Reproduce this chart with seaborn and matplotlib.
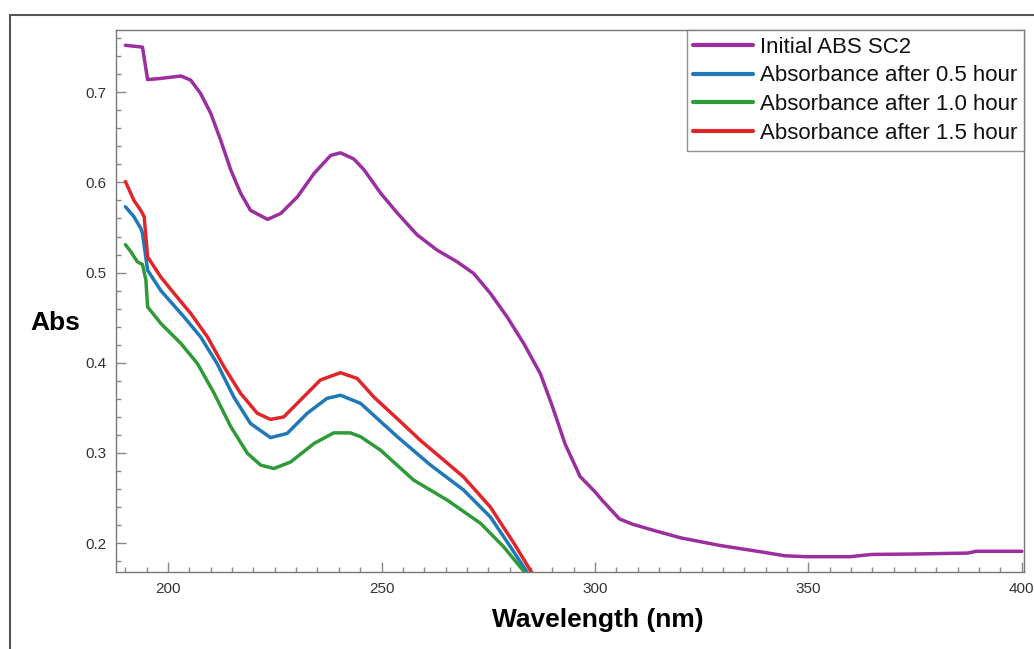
import pandas as pd
import matplotlib
matplotlib.use('Agg')
import matplotlib.pyplot as plt
from matplotlib.patches import Rectangle
from matplotlib.ticker import MultipleLocator
import seaborn as sns

# Widma absorpcji
labels = ['Initial ABS SC2', 'Absorbance after 0.5 hour',
          'Absorbance after 1.0 hour', 'Absorbance after 1.5 hour']
colors = ['#9c2f9f', '#1f78b8', '#2f9b38', '#e0262b']

wl_initial = [190, 194, 195.2, 198.3, 203, 205.3, 207.6, 210, 212.3, 214.7, 217, 219.3,
              223.3, 226.4, 230.3, 234.2, 238.1, 240.4, 243.5, 245.9, 249.8, 253.7,
              258.3, 263, 267.7, 271.6, 275.5, 279.4, 283.3, 287.2, 290, 293, 296.5,
              300, 301.7, 305.7, 308.8, 313.9, 320, 329.2, 339.4, 344.5, 349.6, 355,
              359.7, 364.9, 375, 387.3, 389.3, 400]
abs_initial = [0.752, 0.750, 0.714, 0.7153, 0.718, 0.7134, 0.6987, 0.6765, 0.647, 0.6136,
               0.588, 0.569, 0.559, 0.5656, 0.584, 0.610, 0.630, 0.6328, 0.626, 0.614,
               0.588, 0.566, 0.542, 0.525, 0.512, 0.499, 0.477, 0.451, 0.4215, 0.388,
               0.352, 0.310, 0.274, 0.257, 0.2475, 0.227, 0.221, 0.214, 0.206, 0.1975,
               0.190, 0.186, 0.185, 0.185, 0.185, 0.1875, 0.188, 0.189, 0.191, 0.191]

wl_05 = [190, 192, 193.6, 194, 195.2, 198.3, 203.7, 207.6, 211.5, 215.4, 219.3, 224,
         227.9, 232.6, 237.2, 240.4, 245.1, 253.7, 261.5, 269.2, 275.5, 280.2, 284.5]
abs_05 = [0.573, 0.562, 0.549, 0.5435, 0.5027, 0.480, 0.451, 0.4288, 0.399, 0.362,
          0.3327, 0.317, 0.3217, 0.344, 0.3605, 0.364, 0.355, 0.318, 0.2865, 0.259,
          0.229, 0.196, 0.165]

wl_10 = [190, 191.3, 192.8, 194, 194.8, 195.2, 198.3, 203, 206.9, 210.8, 214.7, 218.6,
         221.7, 224.8, 228.7, 234.2, 238.8, 242.7, 245.1, 249.8, 257.5, 265.4, 273.2,
         278.6, 284]
abs_10 = [0.531, 0.523, 0.512, 0.509, 0.4917, 0.462, 0.4436, 0.4214, 0.399, 0.366, 0.329,
          0.2995, 0.2865, 0.2828, 0.290, 0.3106, 0.3223, 0.3223, 0.318, 0.303, 0.270,
          0.2477, 0.222, 0.196, 0.165]

wl_15 = [190, 192, 193.6, 194.4, 195.2, 198.3, 201.4, 205.3, 209.2, 213.1, 217, 220.9,
         224, 227.1, 231, 235.7, 240.4, 244.3, 248.2, 253.7, 259.1, 264.6, 269.2,
         275.5, 281, 285.5]
abs_15 = [0.601, 0.580, 0.569, 0.562, 0.5175, 0.495, 0.477, 0.4547, 0.4288, 0.3955,
          0.366, 0.344, 0.3372, 0.340, 0.3586, 0.381, 0.389, 0.3826, 0.362, 0.338,
          0.314, 0.292, 0.2735, 0.240, 0.200, 0.165]

frames = []
for lab, wl, ab in zip(labels, [wl_initial, wl_05, wl_10, wl_15],
                       [abs_initial, abs_05, abs_10, abs_15]):
    frames.append(pd.DataFrame({'Wavelength': wl, 'Abs': ab, 'Series': lab}))
df = pd.concat(frames, ignore_index=True)

sns.set_style('ticks')
plt.rcParams['font.family'] = ['Liberation Sans', 'DejaVu Sans']

fig, ax = plt.subplots(figsize=(10.34, 6.49), dpi=100)
fig.subplots_adjust(left=0.1122, right=0.9903, top=0.9538, bottom=0.1186)

sns.lineplot(data=df, x='Wavelength', y='Abs', hue='Series', hue_order=labels,
             palette=colors, estimator=None, sort=False, lw=2.5, ax=ax)

ax.set_xlim(187.8, 400.5)
ax.set_ylim(0.168, 0.769)
ax.xaxis.set_major_locator(MultipleLocator(50))
ax.xaxis.set_minor_locator(MultipleLocator(5))
ax.yaxis.set_major_locator(MultipleLocator(0.1))
ax.yaxis.set_minor_locator(MultipleLocator(0.02))
ax.tick_params(which='major', direction='in', length=7, width=1, color='#888888',
               labelsize=11, labelcolor='#333333', pad=7)
ax.tick_params(which='minor', direction='in', length=3.5, width=1, color='#888888')
for sp in ax.spines.values():
    sp.set_color('#777777')
    sp.set_linewidth(1)

ax.set_xlabel('Wavelength (nm)', fontsize=19, fontweight='bold', va='center',
              color='black')
ax.xaxis.set_label_coords(0.531, -0.0886)
ax.set_ylabel('Abs', fontsize=19, fontweight='bold', rotation=0, va='center',
              ha='center', color='black')
ax.yaxis.set_label_coords(-0.067, 0.459)

leg = ax.legend(loc='upper right', borderaxespad=0, fontsize=16, frameon=True,
                fancybox=False, edgecolor='#777777', handlelength=2.7,
                handletextpad=0.3, labelspacing=0.35, borderpad=0.3)
leg.get_frame().set_linewidth(1)
for line in leg.get_lines():
    line.set_linewidth(3)
for txt in leg.get_texts():
    txt.set_color('#111111')

# Zewnętrzna ramka
fig.patches.append(Rectangle((10 / 1034, -0.2), 1.2, 0.2 + 1 - 15 / 649,
                             transform=fig.transFigure, fill=False,
                             edgecolor='#555555', lw=1.5))

fig.savefig('out.png', dpi=100)
plt.close(fig)
